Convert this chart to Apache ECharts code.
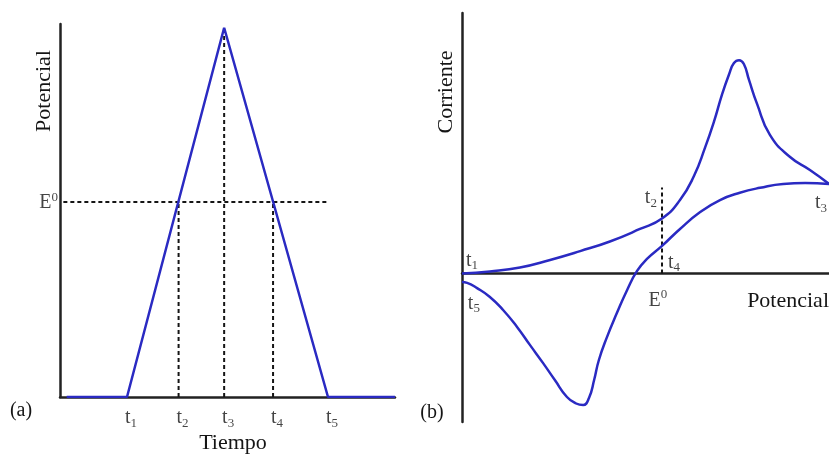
<!DOCTYPE html>
<html>
<head>
<meta charset="utf-8">
<script src="https://cdn.jsdelivr.net/npm/echarts@6/dist/echarts.min.js"></script>
<style>
  html, body { margin: 0; padding: 0; background: #fff; }
  #chart { width: 829px; height: 457px; }
</style>
</head>
<body>
<div id="chart"></div>
<script>
// (a) Triangular potential sweep versus time
const tiempo = [2, 20, 49, 80, 100];
const potencial = [0, 0, 99, 0, 0];
const E0a = 52.3;
const tMarcas = [20, 35.4, 49, 63.6, 80];          // t1 .. t5 on the time axis
const tNombres = ['1', '2', '3', '4', '5'];

// (b) Cyclic voltammogram: forward (t1 -> t3) and reverse (t3 -> t5) sweeps
const potIda = [0, 7.6, 15.8, 24.0, 32.2, 40.3, 48.5, 54.5, 59.4, 63.2, 66.2, 68.7, 70.8, 72.8, 74.1, 75.5, 76.8, 78.2, 80.4, 83.9, 89.4, 94.8, 100];
const corrIda = [0, 0.8, 2.3, 5.2, 8.6, 12.3, 17.1, 21.1, 28.2, 37.4, 48.2, 58.5, 68.5, 76.6, 80.8, 81.9, 80.4, 74.3, 65.1, 53.2, 44.7, 39.7, 34.4];
const potVuelta = [100, 93.5, 87.5, 81.2, 75.7, 70.3, 64.9, 59.4, 54.5, 50.4, 47.7, 45.0, 42.2, 39.5, 37.3, 36.0, 34.6, 33.0, 31.1, 28.6, 25.3, 22.1, 18.5, 15.0, 11.2, 7.6, 4.1, 1.4, 0];
const corrVuelta = [34.4, 34.7, 34.4, 32.9, 31.0, 28.2, 23.6, 17.1, 10.6, 5.6, 1.0, -6.3, -15.2, -24.4, -33.2, -40.9, -47.8, -50.5, -49.9, -47.4, -40.9, -34.4, -27.4, -20.5, -14.0, -9.0, -5.6, -3.6, -3.3];
const E0b = 54.5;
const E0bTope = 33;

const AZUL = '#2a2ac2';
const NEGRO = '#151515';
const SERIF = '"Liberation Serif", "DejaVu Serif", serif';

const pares = (xs, ys) => xs.map((x, i) => [x, ys[i]]);

const rich = {
  b: { fontFamily: SERIF, fontSize: 20, color: NEGRO, lineHeight: 24, verticalAlign: 'middle' },
  sub: { fontFamily: SERIF, fontSize: 13, color: NEGRO, lineHeight: 24, verticalAlign: 'bottom' },
  sup: { fontFamily: SERIF, fontSize: 13, color: NEGRO, lineHeight: 24, verticalAlign: 'top' }
};

// text label anchored at a data point
function etiqueta(xy, texto, align, offset) {
  return {
    value: xy,
    label: {
      show: true,
      position: [0, 0],
      align: align,
      verticalAlign: 'middle',
      offset: offset,
      color: NEGRO,
      fontFamily: SERIF,
      formatter: texto,
      rich: rich
    }
  };
}

const dash = { color: NEGRO, width: 2, type: [4, 3] };

const ejeOculto = {
  axisTick: { show: false },
  axisLabel: { show: false },
  splitLine: { show: false },
  axisLine: { lineStyle: { color: '#222', width: 2.5 } }
};

const curva = { color: AZUL, width: 2.5 };

const chart = echarts.init(document.getElementById('chart'), null, { renderer: 'canvas' });

chart.setOption({
  animation: false,
  backgroundColor: '#fff',
  grid: [
    { left: 60, top: 24, width: 335, height: 373 },
    { left: 462, top: 13, right: 0, bottom: 35 }
  ],
  xAxis: [
    Object.assign({ type: 'value', gridIndex: 0, min: 0, max: 100 }, ejeOculto),
    Object.assign({ type: 'value', gridIndex: 1, min: 0, max: 100 }, ejeOculto)
  ],
  yAxis: [
    Object.assign({ type: 'value', gridIndex: 0, min: 0, max: 100 }, ejeOculto),
    Object.assign({ type: 'value', gridIndex: 1, min: -57, max: 100 }, ejeOculto)
  ],
  series: [
    // ----- (a) -----
    {
      type: 'line', xAxisIndex: 0, yAxisIndex: 0,
      data: [[1, E0a], [80, E0a]],
      symbol: 'none', lineStyle: dash, silent: true
    },
    {
      type: 'line', xAxisIndex: 0, yAxisIndex: 0,
      data: [[tMarcas[1], 0], [tMarcas[1], E0a]],
      symbol: 'none', lineStyle: dash, silent: true
    },
    {
      type: 'line', xAxisIndex: 0, yAxisIndex: 0,
      data: [[tMarcas[2], 0], [tMarcas[2], potencial[2]]],
      symbol: 'none', lineStyle: dash, silent: true
    },
    {
      type: 'line', xAxisIndex: 0, yAxisIndex: 0,
      data: [[tMarcas[3], 0], [tMarcas[3], E0a]],
      symbol: 'none', lineStyle: dash, silent: true
    },
    {
      type: 'line', xAxisIndex: 0, yAxisIndex: 0,
      data: pares(tiempo, potencial),
      symbol: 'none', lineStyle: curva, silent: true
    },
    {
      type: 'scatter', xAxisIndex: 0, yAxisIndex: 0, symbolSize: 0, clip: false, silent: true,
      data: tMarcas.map((t, i) => etiqueta([t, 0], '{b|t}{sub|' + tNombres[i] + '}', 'center', [4, 21]))
        .concat([etiqueta([0, E0a], '{b|E}{sup|0}', 'right', [-2, 1])])
    },
    // ----- (b) -----
    {
      type: 'line', xAxisIndex: 1, yAxisIndex: 1,
      data: [[E0b, 0], [E0b, E0bTope]],
      symbol: 'none', lineStyle: dash, silent: true
    },
    {
      type: 'line', xAxisIndex: 1, yAxisIndex: 1,
      data: pares(potIda, corrIda),
      symbol: 'none', smooth: 0.5, lineStyle: curva, silent: true
    },
    {
      type: 'line', xAxisIndex: 1, yAxisIndex: 1,
      data: pares(potVuelta, corrVuelta),
      symbol: 'none', smooth: 0.5, lineStyle: curva, silent: true
    },
    {
      type: 'scatter', xAxisIndex: 1, yAxisIndex: 1, symbolSize: 0, clip: false, silent: true,
      data: [
        etiqueta([1.1, 5.0], '{b|t}{sub|1}', 'left', [0, 0]),
        etiqueta([53.1, 29.1], '{b|t}{sub|2}', 'right', [0, 0]),
        etiqueta([96.2, 27.2], '{b|t}{sub|3}', 'left', [0, 0]),
        etiqueta([56.1, 4.2], '{b|t}{sub|4}', 'left', [0, 0]),
        etiqueta([1.6, -11.5], '{b|t}{sub|5}', 'left', [0, 0]),
        etiqueta([53.4, -10.3], '{b|E}{sup|0}', 'center', [0, 0])
      ]
    }
  ],
  graphic: [
    { type: 'text', x: 44, y: 91, rotation: Math.PI / 2,
      style: { text: 'Potencial', font: '22px ' + SERIF, fill: NEGRO, textAlign: 'center', textVerticalAlign: 'middle' } },
    { type: 'text', x: 233, y: 443,
      style: { text: 'Tiempo', font: '22px ' + SERIF, fill: NEGRO, textAlign: 'center', textVerticalAlign: 'middle' } },
    { type: 'text', x: 21, y: 411,
      style: { text: '(a)', font: '20px ' + SERIF, fill: NEGRO, textAlign: 'center', textVerticalAlign: 'middle' } },
    { type: 'text', x: 446, y: 92, rotation: Math.PI / 2,
      style: { text: 'Corriente', font: '22px ' + SERIF, fill: NEGRO, textAlign: 'center', textVerticalAlign: 'middle' } },
    { type: 'text', x: 829, y: 301,
      style: { text: 'Potencial', font: '22px ' + SERIF, fill: NEGRO, textAlign: 'right', textVerticalAlign: 'middle' } },
    { type: 'text', x: 432, y: 413,
      style: { text: '(b)', font: '20px ' + SERIF, fill: NEGRO, textAlign: 'center', textVerticalAlign: 'middle' } }
  ]
});
</script>
</body>
</html>
